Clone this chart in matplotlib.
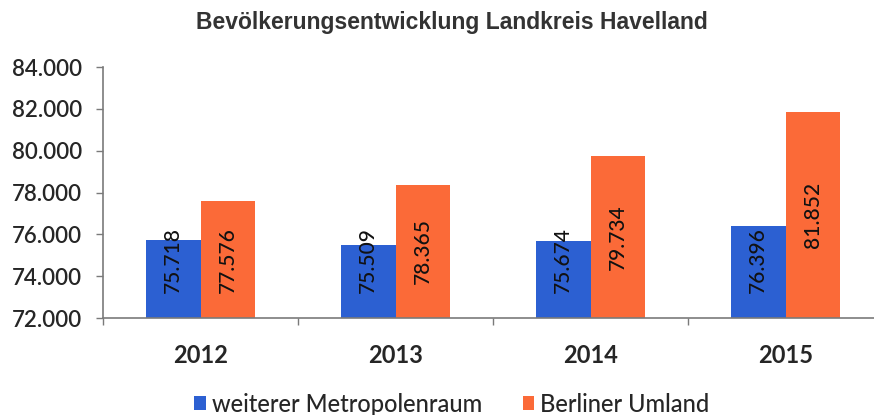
import matplotlib
matplotlib.use("Agg")
import matplotlib.pyplot as plt
from matplotlib.ticker import FuncFormatter, FixedLocator
import numpy as np

years = ["2012", "2013", "2014", "2015"]
metropolenraum = [75718, 75509, 75674, 76396]
umland = [77576, 78365, 79734, 81852]
series_names = ["weiterer Metropolenraum", "Berliner Umland"]
title = "Bevölkerungsentwicklung Landkreis Havelland"

blue = "#2c60d2"
orange = "#fb6a38"

fig = plt.figure(figsize=(8.74, 4.15), dpi=100)
ax = fig.add_axes([103/874, 97/415, 780/874, 251/415])

x = np.arange(len(years))
w = 0.282
b1 = ax.bar(x - w/2, np.array(metropolenraum) - 72000, w, bottom=72000, color=blue, label=series_names[0])
b2 = ax.bar(x + w/2, np.array(umland) - 72000, w, bottom=72000, color=orange, label=series_names[1])

ax.set_ylim(72000, 84000)
ax.set_xlim(-0.5, 3.5)
ax.set_yticks(np.arange(72000, 84001, 2000))

def fmt(v, pos=None):
    return f"{int(round(v)):,}".replace(",", ".")

ax.yaxis.set_major_formatter(FuncFormatter(fmt))
ax.set_xticks(x)
ax.set_xticklabels(years)
ax.xaxis.set_minor_locator(FixedLocator(np.arange(-0.5, 4, 1.0)))

for s in ["top", "right"]:
    ax.spines[s].set_visible(False)
for s in ["left", "bottom"]:
    ax.spines[s].set_color("#7a7a7a")
    ax.spines[s].set_linewidth(1.2)

ax.tick_params(axis="y", length=5, color="#7a7a7a", width=1.0, pad=10,
               labelsize=16, labelcolor="#262626")
ax.tick_params(axis="x", which="major", length=0, pad=19, labelsize=17, labelcolor="#262626")
ax.tick_params(axis="x", which="minor", length=5, color="#7a7a7a", width=1.0)
for lab in ax.get_yticklabels():
    lab.set_fontfamily("Lato")
    lab.set_fontweight("semibold")
for lab in ax.get_xticklabels():
    lab.set_fontfamily("Lato")
    lab.set_fontweight("bold")

min_center = 72000 + 2770
for xs, vals in [(x - w/2, metropolenraum), (x + w/2, umland)]:
    for xi, v in zip(xs, vals):
        yc = max((72000 + v) / 2, min_center)
        ax.text(xi, yc, fmt(v), rotation=90, ha="center", va="center",
                fontsize=15, family="Lato", fontweight="medium", color="#111111")

fig.text(452/874, 1 - 22/415, title, ha="center", va="center",
         fontsize=16.5, fontweight="bold", family="Liberation Sans", color="#333333")

leg = fig.legend(handles=[b1, b2], loc="center", bbox_to_anchor=(452/874, 1 - 404/415),
                 ncol=2, frameon=False, prop={"family": "Lato", "size": 17, "weight": "medium"},
                 handlelength=0.5, handleheight=0.5, handletextpad=0.25, columnspacing=1.7)
for t in leg.get_texts():
    t.set_color("#262626")

fig.savefig("out.png", dpi=100)
